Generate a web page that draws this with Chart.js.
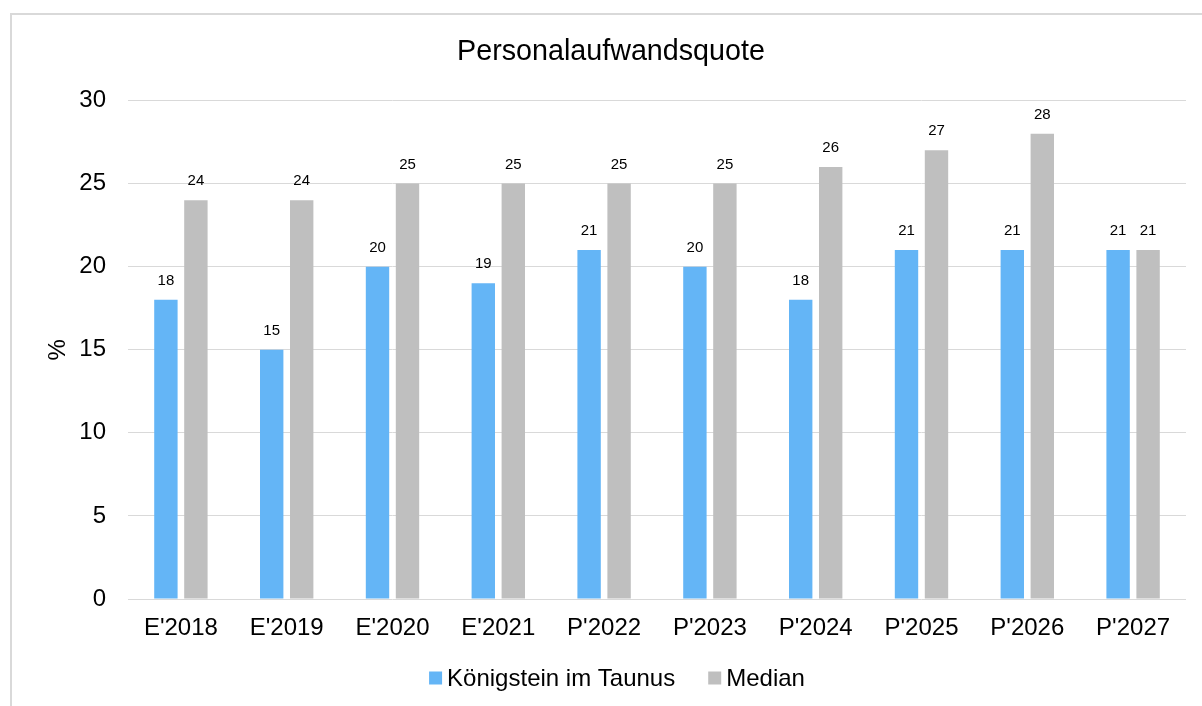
<!DOCTYPE html>
<html>
<head>
<meta charset="utf-8">
<script src="https://cdn.jsdelivr.net/npm/chart.js@4/dist/chart.umd.min.js"></script>
<style>
  html, body { margin: 0; padding: 0; background: #fff; overflow: hidden; }
  #frame {
    position: absolute; left: 10px; top: 13px;
    width: 1198px; height: 691px;
    border-left: 2px solid #d9d9d9; border-top: 2px solid #d9d9d9;
  }
  #wrap { position: relative; width: 1198px; height: 691px; }
</style>
</head>
<body>
<div id="frame"><div id="wrap"><canvas id="chart"></canvas></div></div>
<script>
const FONT = "'Liberation Sans', Arial, sans-serif";

const categories = ["E'2018", "E'2019", "E'2020", "E'2021", "P'2022", "P'2023", "P'2024", "P'2025", "P'2026", "P'2027"];
const koenigsteinValues = [18, 15, 20, 19, 21, 20, 18, 21, 21, 21];
const medianValues = [24, 24, 25, 25, 25, 25, 26, 27, 28, 21];
const yTicks = [0, 5, 10, 15, 20, 25, 30];
const seriesNames = ["Königstein im Taunus", "Median"];
const seriesColors = ["#64B5F6", "#BFBFBF"];

// Value labels above each bar
const valueLabels = {
  id: 'valueLabels',
  afterDatasetsDraw(chart) {
    const ctx = chart.ctx;
    ctx.save();
    ctx.font = "15px " + FONT;
    ctx.fillStyle = "#000";
    ctx.textAlign = "center";
    ctx.textBaseline = "alphabetic";
    chart.data.datasets.forEach((ds, i) => {
      chart.getDatasetMeta(i).data.forEach((bar, j) => {
        ctx.fillText(String(ds.data[j]), bar.x, bar.y - 15);
      });
    });
    ctx.restore();
  }
};

// Compact legend below the axis
const bottomLegend = {
  id: 'bottomLegend',
  afterDraw(chart) {
    const ctx = chart.ctx;
    ctx.save();
    ctx.font = "24px " + FONT;
    const box = 13, gapText = 5, gapItem = 33;
    const items = chart.data.datasets.map(ds => ({ text: ds.label, color: ds.backgroundColor, w: ctx.measureText(ds.label).width }));
    let total = 0;
    items.forEach((it, i) => { total += box + gapText + it.w + (i ? gapItem : 0); });
    let x = 605 - total / 2;
    const cy = 663;
    items.forEach((it, i) => {
      if (i) x += gapItem;
      ctx.fillStyle = it.color;
      ctx.fillRect(x, cy - box / 2, box, box);
      x += box + gapText;
      ctx.fillStyle = "#000";
      ctx.textBaseline = "middle";
      ctx.textAlign = "left";
      ctx.fillText(it.text, x, cy + 1);
      x += it.w;
    });
    ctx.restore();
  }
};

new Chart(document.getElementById('chart'), {
  type: 'bar',
  data: {
    labels: categories,
    datasets: [
      { label: seriesNames[0], data: koenigsteinValues, backgroundColor: seriesColors[0] },
      { label: seriesNames[1], data: medianValues, backgroundColor: seriesColors[1] }
    ]
  },
  options: {
    responsive: true,
    maintainAspectRatio: false,
    animation: false,
    categoryPercentage: 0.567,
    barPercentage: 0.78,
    layout: { padding: { left: 24, right: 24, top: 0, bottom: 0 } },
    plugins: {
      legend: { display: false },
      tooltip: { enabled: false },
      title: {
        display: true,
        text: 'Personalaufwandsquote',
        color: '#000',
        font: { family: FONT, size: 28.7, weight: 'normal' },
        padding: { top: 20, bottom: 31 }
      }
    },
    scales: {
      x: {
        grid: { display: false, drawTicks: false },
        border: { display: false },
        ticks: { color: '#000', font: { family: FONT, size: 24 }, padding: 15, maxRotation: 0, autoSkip: false },
        afterFit(scale) { scale.height = 107; }
      },
      y: {
        min: 0, max: 30,
        afterBuildTicks(scale) { scale.ticks = yTicks.map(v => ({ value: v })); },
        grid: { color: '#d9d9d9', lineWidth: 1, drawTicks: false },
        border: { display: false },
        ticks: { color: '#000', font: { family: FONT, size: 24 }, padding: 22 },
        title: { display: true, text: '%', color: '#000', font: { family: FONT, size: 24 }, padding: { top: 8, bottom: 0 } },
        afterFit(scale) { scale.width = 92; }
      }
    }
  },
  plugins: [valueLabels, bottomLegend]
});
</script>
</body>
</html>
